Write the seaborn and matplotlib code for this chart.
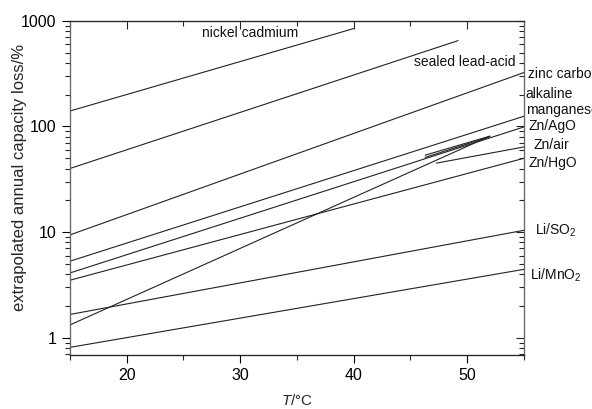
import numpy as np
import pandas as pd
import matplotlib
matplotlib.use('Agg')
import matplotlib.pyplot as plt
from matplotlib.ticker import MultipleLocator, LogLocator, NullFormatter
import seaborn as sns

# straight lines on the log plot: start/end temperature and start/end loss
series = ['nickel cadmium', 'sealed lead-acid', 'zinc carbon', 'alkaline manganese',
          'Zn/AgO', 'Zn/air', 'Zn/HgO', 'Li/SO2', 'Li/MnO2',
          'steep', 'sliver upper', 'sliver lower']
t_start = [15, 15, 15, 15, 15, 47.3, 15, 15, 15, 15, 46.3, 46.3]
t_end = [40, 49.2, 55, 55, 55, 55, 55, 55, 55, 52, 52, 52]
loss_start = [140, 40, 9.4, 5.3, 4.1, 45, 3.5, 1.66, 0.81, 1.32, 53.5, 51]
loss_end = [845, 650, 324, 125, 99, 64, 50, 10.4, 4.44, 81, 81, 80]

# label texts and where they sit (data coords)
labels = ['nickel cadmium', 'sealed lead-acid', 'zinc carbon', 'alkaline', 'manganese',
          'Zn/AgO', 'Zn/air', 'Zn/HgO', 'Li/SO$_2$', 'Li/MnO$_2$']
label_x = [26.6, 45.3, 55.4, 55.15, 55.15, 55.4, 55.85, 55.4, 55.95, 55.5]
label_y = [760, 408, 312, 205, 143, 101, 66.5, 44.7, 10.4, 3.92]

rows = []
for s, t0, t1, l0, l1 in zip(series, t_start, t_end, loss_start, loss_end):
    rows.append({'series': s, 'T': t0, 'loss': l0})
    rows.append({'series': s, 'T': t1, 'loss': l1})
df = pd.DataFrame(rows)

sns.set_style('ticks')
plt.rcParams['font.family'] = ['Liberation Sans', 'DejaVu Sans']
plt.rcParams['mathtext.fontset'] = 'custom'
plt.rcParams['mathtext.rm'] = 'Liberation Sans'
plt.rcParams['mathtext.it'] = 'Liberation Sans:italic'

fig = plt.figure(figsize=(5.92, 4.09), dpi=100)
ax = fig.add_axes([0.118, 0.132, 0.767, 0.817])

sns.lineplot(data=df, x='T', y='loss', units='series', estimator=None,
             color='#222222', linewidth=0.8, ax=ax, legend=False)

ylim = (0.686, 1000)
ax.set_yscale('log')
ax.set_xlim(15, 55)
ax.set_ylim(*ylim)
ax.set_xticks([20, 30, 40, 50])
ax.xaxis.set_minor_locator(MultipleLocator(5))
ax.set_yticks([1, 10, 100, 1000])
ax.set_yticklabels(['1', '10', '100', '1000'])
ax.yaxis.set_minor_locator(LogLocator(base=10, subs=np.arange(2, 10)))
ax.yaxis.set_minor_formatter(NullFormatter())
ax.tick_params(which='major', direction='out', length=6, width=0.8, labelsize=11.5, colors='black')
ax.tick_params(which='minor', direction='out', length=3.5, width=0.8)

for side in ['top', 'bottom']:
    ax.spines[side].set_color('black')
    ax.spines[side].set_linewidth(0.8)
for side in ['left', 'right']:
    ax.spines[side].set_color('#666666')
    ax.spines[side].set_linewidth(0.8)

# inward ticks on top and right
axr = ax.twinx()
axr.set_yscale('log')
axr.set_ylim(*ylim)
axr.set_yticks([1, 10, 100, 1000])
axr.yaxis.set_minor_locator(LogLocator(base=10, subs=np.arange(2, 10)))
axr.tick_params(which='major', direction='in', length=6, width=0.8, labelright=False)
axr.tick_params(which='minor', direction='in', length=3.5, width=0.8, labelright=False)
axr.yaxis.set_minor_formatter(NullFormatter())
axr.yaxis.set_major_formatter(NullFormatter())

axt = ax.twiny()
axt.set_xlim(15, 55)
axt.set_xticks([20, 30, 40, 50])
axt.xaxis.set_minor_locator(MultipleLocator(5))
axt.tick_params(which='major', direction='in', length=6, width=0.8, labeltop=False)
axt.tick_params(which='minor', direction='in', length=3.5, width=0.8)
for a in (axr, axt):
    a.spines['left'].set_color('#666666')
    a.spines['right'].set_color('#666666')
    for sp in a.spines.values():
        sp.set_linewidth(0.8)

ax.set_xlabel('$T$/°C', fontsize=11, labelpad=7)
ax.set_ylabel('extrapolated annual capacity loss/%', fontsize=12)
ax.yaxis.set_label_coords(-0.095, 0.53)

for txt, x, y in zip(labels, label_x, label_y):
    ax.text(x, y, txt, fontsize=10, ha='left', va='center', color='#111111', clip_on=False)

fig.savefig('out.png', dpi=100)
